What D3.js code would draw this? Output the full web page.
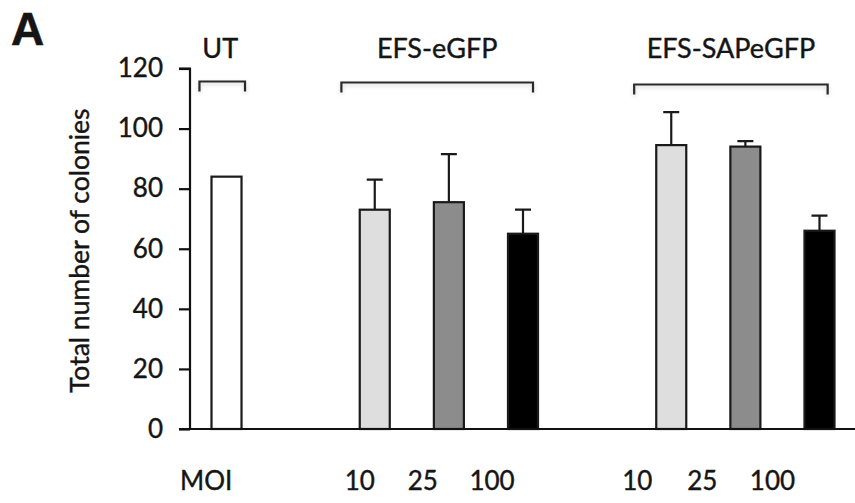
<!DOCTYPE html>
<html>
<head>
<meta charset="utf-8">
<script src="https://cdn.jsdelivr.net/npm/d3@7/dist/d3.min.js"></script>
<style>
  html, body { margin: 0; padding: 0; background: #fff; }
  svg { display: block; }
  text { font-family: Lato, "Open Sans", sans-serif; fill: #151515; stroke: #151515; stroke-width: 0.4px; }
</style>
</head>
<body>
<svg id="chart" width="855" height="503"></svg>
<script>
// ---- data ----
const slots = ["UT", "gap1", "eGFP-10", "eGFP-25", "eGFP-100", "gap2", "SAP-10", "SAP-25", "SAP-100"];
const barKeys = ["UT", "eGFP-10", "eGFP-25", "eGFP-100", "SAP-10", "SAP-25", "SAP-100"];
const barMeans = [84, 73, 75.5, 65, 94.5, 94, 66];
const barErrors = [0, 10, 16, 8, 11, 1.8, 5];
const barMOI = ["UT", "10", "25", "100", "10", "25", "100"];
const groupNames = ["UT", "EFS-eGFP", "EFS-SAPeGFP"];
const yTicks = [0, 20, 40, 60, 80, 100, 120];
const moiLabels = ["10", "25", "100", "10", "25", "100"];
const moiKeys = ["eGFP-10", "eGFP-25", "eGFP-100", "SAP-10", "SAP-25", "SAP-100"];

// ---- layout / style ----
const fills = { "UT": "#ffffff", "10": "#dedede", "25": "#8c8c8c", "100": "#000000" };
const bracketSpan = [[-0.365, 0.25], [1.55, 4.135], [5.5, 8.11]]; // in slot units
const moiLabelDx = [-15, -26, -31, -34, -43, -47];

const svg = d3.select("#chart");
const x = d3.scaleBand().domain(slots).range([190, 856]).paddingInner(0.595).paddingOuter(0.29);
const y = d3.scaleLinear().domain([0, 120]).range([429, 68.5]);
const slotX = d3.scaleLinear().domain([0, 1]).range([x("UT") + x.bandwidth() / 2, x("UT") + x.bandwidth() / 2 + x.step()]);

// shadow filter for brackets
const defs = svg.append("defs");
const f = defs.append("filter").attr("id", "sh").attr("x", "-10%").attr("y", "-100%").attr("width", "120%").attr("height", "400%");
f.append("feGaussianBlur").attr("in", "SourceAlpha").attr("stdDeviation", 2.2).attr("result", "b");
f.append("feOffset").attr("in", "b").attr("dx", 0).attr("dy", 2).attr("result", "o");
f.append("feComponentTransfer").attr("in", "o").attr("result", "o2")
  .append("feFuncA").attr("type", "linear").attr("slope", 0.18);
const fm = f.append("feMerge");
fm.append("feMergeNode").attr("in", "o2");
fm.append("feMergeNode").attr("in", "SourceGraphic");

// panel letter
svg.append("text").attr("x", 11).attr("y", 45)
  .style("font-family", "'Liberation Sans', Arial, sans-serif")
  .style("font-weight", "bold").style("font-size", "46px").style("stroke-width", "0.6px").text("A");

// y axis
const yAxis = d3.axisLeft(y).tickValues(yTicks).tickSize(11).tickPadding(16).tickFormat(d3.format("d"));
const gy = svg.append("g").attr("transform", "translate(190,0)").call(yAxis);
gy.select(".domain").attr("stroke", "#111").attr("stroke-width", 2.2).attr("d", `M-11,${y(120)}H0V${y(0)}`);
gy.selectAll(".tick line").attr("stroke", "#111").attr("stroke-width", 2.2);
gy.selectAll(".tick text").style("font-family", "Lato, sans-serif").style("font-size", "26px").attr("fill", "#151515");

// y label
svg.append("text")
  .attr("transform", `translate(80,${(y(0) + y(120)) / 2 + 2}) rotate(-90)`)
  .attr("text-anchor", "middle").attr("dy", "0.35em")
  .style("font-size", "26.5px").text("Total number of colonies");

// bars
const bars = barKeys.map((k, i) => ({ key: k, mean: barMeans[i], err: barErrors[i], moi: barMOI[i] }));
svg.append("g").selectAll("rect").data(bars).join("rect")
  .attr("x", d => x(d.key)).attr("width", x.bandwidth())
  .attr("y", d => y(d.mean)).attr("height", d => y(0) - y(d.mean))
  .attr("fill", d => fills[d.moi]).attr("stroke", "#1a1a1a").attr("stroke-width", 2.2);

// error bars (upper only)
const capW = 16;
const eb = svg.append("g").attr("stroke", "#1a1a1a").attr("stroke-width", 2.2).attr("fill", "none");
eb.selectAll("path").data(bars.filter(d => d.err > 0)).join("path")
  .attr("d", d => {
    const cx = x(d.key) + x.bandwidth() / 2;
    return `M${cx},${y(d.mean)}V${y(d.mean + d.err)}M${cx - capW / 2},${y(d.mean + d.err)}H${cx + capW / 2}`;
  });

// x axis line
svg.append("path").attr("d", `M179,${y(0)}H855`).attr("stroke", "#111").attr("stroke-width", 2.2);

// brackets + group labels
const bTop = [81.5, 82.5, 84.5];
const bg = svg.append("g");
groupNames.forEach((name, i) => {
  const x1 = slotX(bracketSpan[i][0]), x2 = slotX(bracketSpan[i][1]);
  const yt = bTop[i];
  bg.append("path").attr("d", `M${x1},${yt + 10}V${yt}H${x2}V${yt + 10}`)
    .attr("fill", "none").attr("stroke", "#2a2a2a").attr("stroke-width", 2.2).attr("filter", "url(#sh)");
  bg.append("text").attr("x", (x1 + x2) / 2 - (i === 0 ? 2 : 0)).attr("y", 58)
    .attr("text-anchor", "middle").style("font-size", "27px").text(name);
});

// MOI labels
svg.append("text").attr("x", 180).attr("y", 490).style("font-size", "26px").text("MOI");
svg.append("g").selectAll("text").data(moiLabels).join("text")
  .attr("x", (d, i) => x(moiKeys[i]) + x.bandwidth() / 2 + moiLabelDx[i])
  .attr("y", 490).attr("text-anchor", "middle").style("font-size", "26px").text(d => d);
</script>
</body>
</html>
